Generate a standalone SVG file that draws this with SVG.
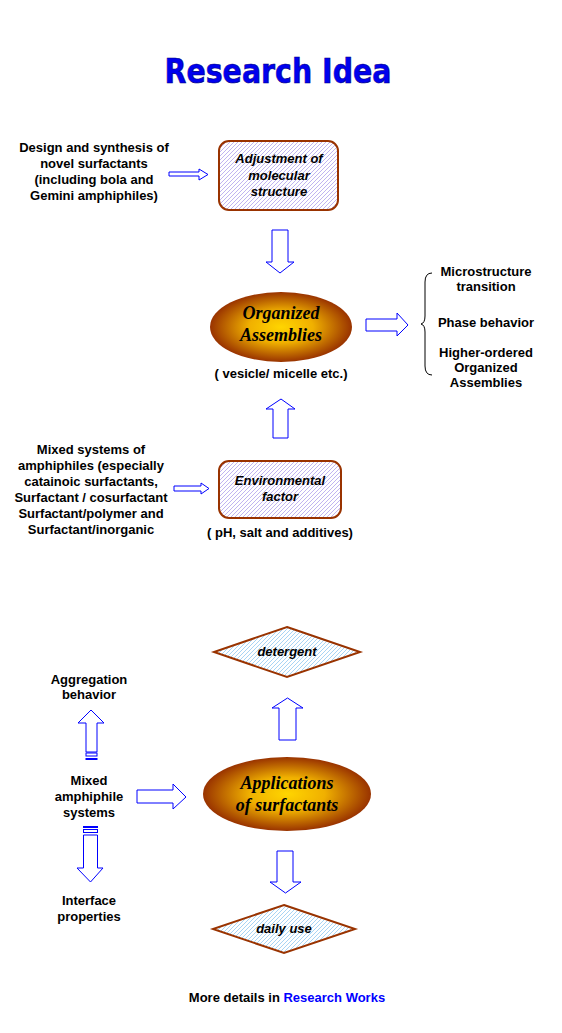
<svg xmlns="http://www.w3.org/2000/svg" width="562" height="1033" viewBox="0 0 562 1033">
<defs>
<pattern id="hatchP" width="4" height="4" patternUnits="userSpaceOnUse">
<rect width="4" height="4" fill="#ffffff"/>
<path d="M-1,1 l2,-2 M0,4 l4,-4 M3,5 l2,-2" stroke="#c0b4f0" stroke-width="1"/>
</pattern>
<pattern id="hatchB" width="4" height="4" patternUnits="userSpaceOnUse">
<rect width="4" height="4" fill="#ffffff"/>
<path d="M-1,1 l2,-2 M0,4 l4,-4 M3,5 l2,-2" stroke="#a8d4f4" stroke-width="1"/>
</pattern>
<radialGradient id="gold" cx="50%" cy="50%" r="50%">
<stop offset="0" stop-color="#ffd500"/>
<stop offset="0.45" stop-color="#f0b000"/>
<stop offset="1" stop-color="#993300"/>
</radialGradient>
</defs>
<style>
.t{font-family:"Liberation Sans",Arial,sans-serif;font-weight:bold;font-size:13px;fill:#000;text-anchor:middle}
.n{font-family:"Liberation Sans",Arial,sans-serif;font-weight:bold;font-style:italic;font-size:13px;fill:#000;text-anchor:middle}
.e{font-family:"Liberation Serif","Times New Roman",serif;font-weight:bold;font-style:italic;fill:#000;text-anchor:middle}
.box{fill:url(#hatchP);stroke:#993300;stroke-width:2}
.dia{fill:url(#hatchB);stroke:#993300;stroke-width:2}
.arr{fill:#ffffff;stroke:#0000ff;stroke-width:1}
.bar{fill:#0000ff}
</style>
<rect width="562" height="1033" fill="#ffffff"/>
<text id="title" x="278" y="83" font-family="DejaVu Sans,Verdana,sans-serif" font-weight="bold" font-size="34" fill="#0000ee" stroke="#000080" stroke-width="0.6" text-anchor="middle" textLength="227" lengthAdjust="spacingAndGlyphs">Research Idea</text>

<g id="design-text">
<text class="t" x="94" y="152">Design and synthesis of</text>
<text class="t" x="94" y="168">novel surfactants</text>
<text class="t" x="94" y="184">(including bola and</text>
<text class="t" x="94" y="200">Gemini amphiphiles)</text>
</g>

<g id="adjustment">
<rect class="box" x="219" y="141" width="119" height="69" rx="10" ry="10"/>
<text class="n" x="279" y="163">Adjustment of</text>
<text class="n" x="279" y="180">molecular</text>
<text class="n" x="279" y="196">structure</text>
</g>

<g id="organized">
<ellipse cx="281" cy="327" rx="71" ry="35" fill="url(#gold)"/>
<text class="e" x="281" y="319" font-size="18">Organized</text>
<text class="e" x="281" y="341" font-size="18">Assemblies</text>
<text class="t" x="281" y="378">( vesicle/ micelle etc.)</text>
</g>

<g id="outcomes">
<path d="M432,273 Q425,273 425,282 L425,316 Q425,323 421,324 Q425,325 425,332 L425,366 Q425,375 432,375" fill="none" stroke="#000" stroke-width="1"/>
<text class="t" x="486" y="276">Microstructure</text>
<text class="t" x="486" y="291">transition</text>
<text class="t" x="486" y="327">Phase behavior</text>
<text class="t" x="486" y="357">Higher-ordered</text>
<text class="t" x="486" y="372">Organized</text>
<text class="t" x="486" y="387">Assemblies</text>
</g>

<g id="mixed-text">
<text class="t" x="91" y="454">Mixed systems of</text>
<text class="t" x="91" y="470">amphiphiles (especially</text>
<text class="t" x="91" y="486">catainoic surfactants,</text>
<text class="t" x="91" y="502">Surfactant / cosurfactant</text>
<text class="t" x="91" y="518">Surfactant/polymer and</text>
<text class="t" x="91" y="534">Surfactant/inorganic</text>
</g>

<g id="environmental">
<rect class="box" x="219" y="461" width="122" height="57" rx="10" ry="10"/>
<text class="n" x="280" y="485">Environmental</text>
<text class="n" x="280" y="501">factor</text>
<text class="t" x="280" y="537">( pH, salt and additives)</text>
</g>

<g id="detergent">
<polygon class="dia" points="287,627 360,652 287,677 214,652"/>
<text class="n" x="287" y="656">detergent</text>
</g>

<g id="applications">
<ellipse cx="287" cy="794" rx="84" ry="37" fill="url(#gold)"/>
<text class="e" x="287" y="789" font-size="18">Applications</text>
<text class="e" x="287" y="811" font-size="18">of surfactants</text>
</g>

<g id="daily-use">
<polygon class="dia" points="284,905 355,929 284,953 213,929"/>
<text class="n" x="284" y="933">daily use</text>
</g>

<g id="aggregation">
<text class="t" x="89" y="684">Aggregation</text>
<text class="t" x="89" y="699">behavior</text>
</g>

<g id="mixed-amphiphile">
<text class="t" x="89" y="785">Mixed</text>
<text class="t" x="89" y="801">amphiphile</text>
<text class="t" x="89" y="817">systems</text>
</g>

<g id="interface">
<text class="t" x="89" y="905">Interface</text>
<text class="t" x="89" y="921">properties</text>
</g>

<g id="connectors">
<polygon class="arr" points="169,172 199,172 199,169 208,174.5 199,180 199,176 169,176"/>
<polygon class="arr" points="272,230 288,230 288,262 294,262 280,273 266,262 272,262"/>
<polygon class="arr" points="366,319 397,319 397,313 408,325 397,336 397,331 366,331"/>
<polygon class="arr" points="273,438 288,438 288,409 295,409 281,399 266,409 273,409"/>
<polygon class="arr" points="174,486 201,486 201,483 209,488.5 201,494 201,491 174,491"/>
<polygon class="arr" points="279,740 296,740 296,708 303,708 287.5,698 272,708 279,708"/>
<polygon class="arr" points="277,851 293,851 293,882 301,882 285.5,893 270,882 277,882"/>
<polygon class="arr" points="86,752 97,752 97,723 104,723 91,710 78,723 86,723"/>
<rect class="arr" x="86" y="753" width="11" height="3"/>
<rect class="bar" x="85.5" y="758" width="12" height="2"/>
<polygon class="arr" points="137,790 173,790 173,784 186,797 173,809 173,803 137,803"/>
<rect class="bar" x="83" y="826" width="15" height="2"/>
<rect class="arr" x="83.5" y="829.5" width="14" height="3"/>
<polygon class="arr" points="83.5,835 97.5,835 97.5,868 103,868 90.5,882 77,868 83.5,868"/>
</g>

<text id="footer" x="287" y="1002" class="t"><tspan>More details in </tspan><tspan fill="#0000ff">Research Works</tspan></text>
</svg>
